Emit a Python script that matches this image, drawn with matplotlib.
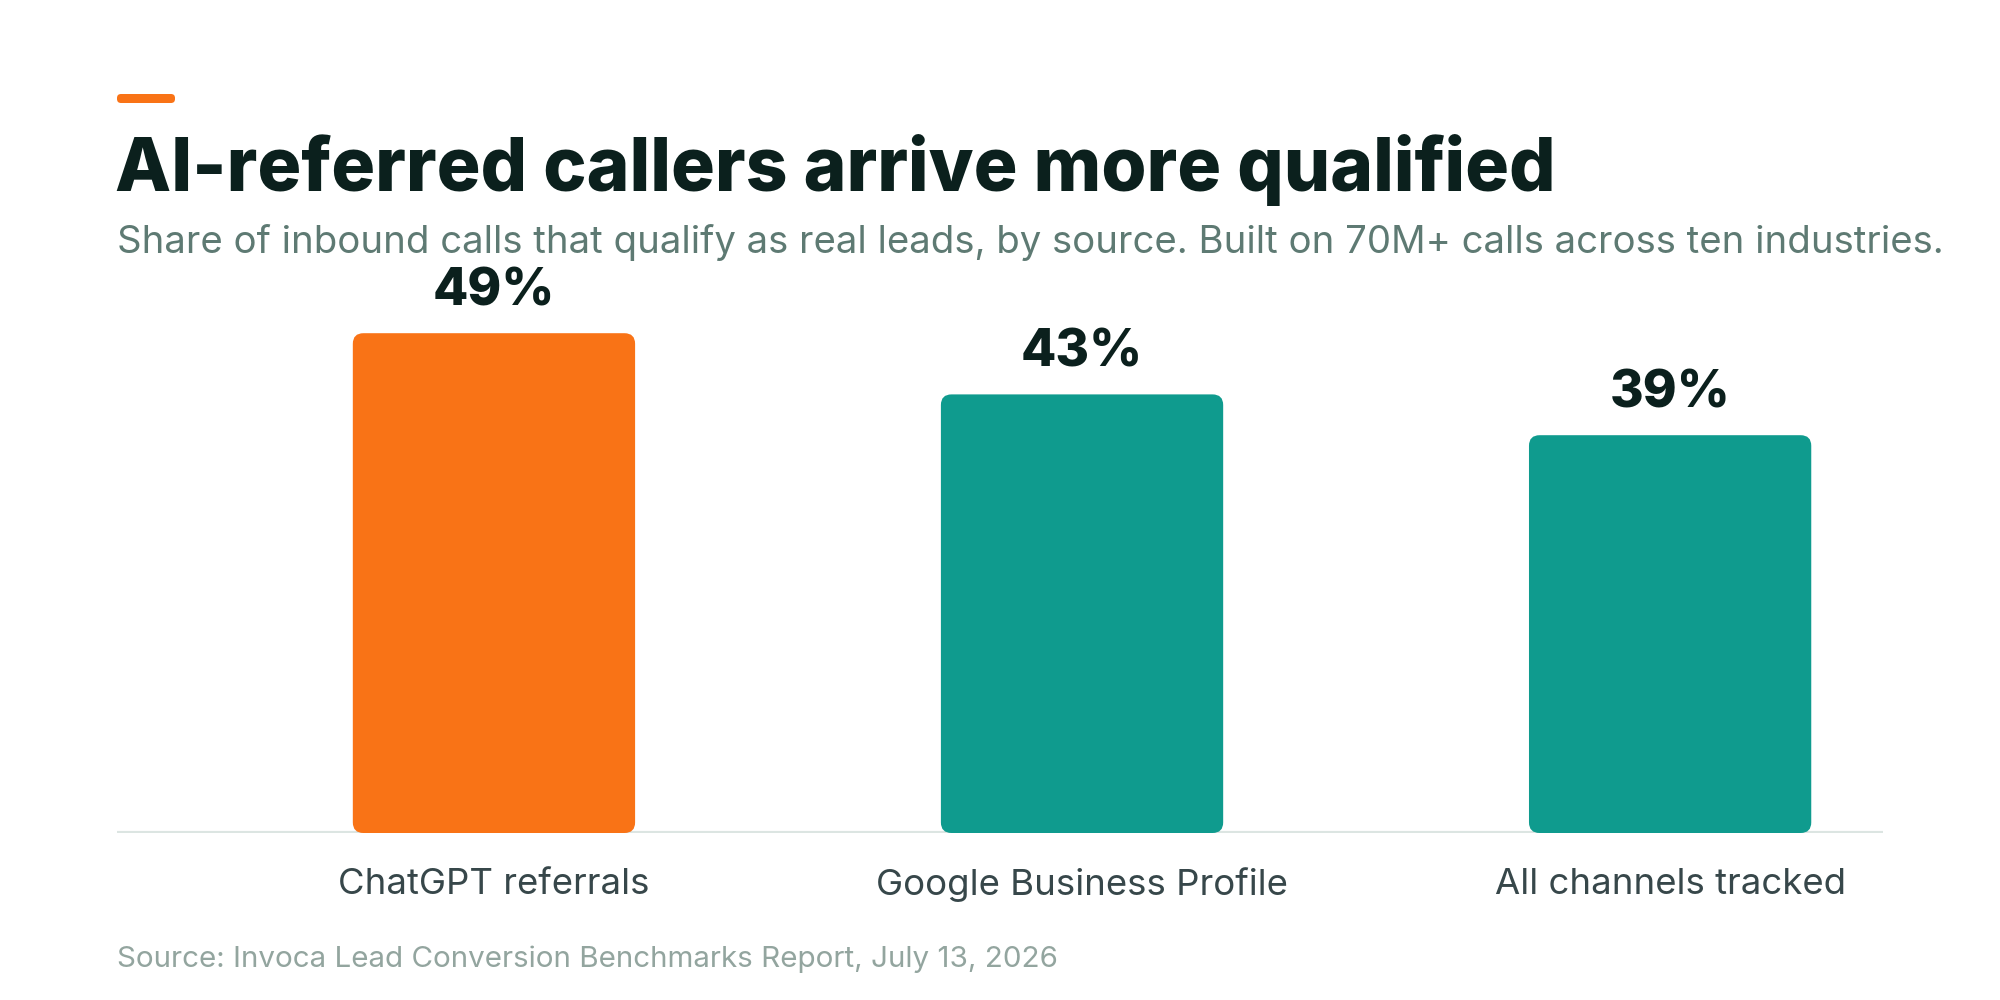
import matplotlib
matplotlib.use("Agg")
import matplotlib.pyplot as plt
from matplotlib.patches import FancyBboxPatch

# data
categories = ["ChatGPT referrals", "Google Business Profile", "All channels tracked"]
values = [49, 43, 39]
value_labels = ["49%", "43%", "39%"]
bar_colors = ["#F97316", "#0F9B8E", "#0F9B8E"]

title = "AI-referred callers arrive more qualified"
subtitle = ("Share of inbound calls that qualify as real leads, by source. "
            "Built on 70M+ calls across ten industries.")
source = "Source: Invoca Lead Conversion Benchmarks Report, July 13, 2026"

plt.rcParams["font.family"] = ["Inter", "DejaVu Sans"]

W, H = 2000, 1000
fig = plt.figure(figsize=(20, 10), dpi=100)
fig.patch.set_facecolor("white")

# axes placed in pixel terms: baseline at y=833, left 117, right 1883
ax_h = 612
ax = fig.add_axes([117 / W, 1 - 833 / H, (1883 - 117) / W, ax_h / H])
ax.set_xlim(-0.641, 2.362)
ax.set_ylim(0, 60)
ax.axis("off")

xs = list(range(len(categories)))
bars = ax.bar(xs, values, width=0.48, color=bar_colors)

# swap plain bars for rounded ones
rad_x = 0.018
aspect = (60 / ax_h) / (3.003 / 1766)
for b in bars:
    x0, y0 = b.get_x(), b.get_y()
    w, h = b.get_width(), b.get_height()
    fb = FancyBboxPatch((x0, y0), w, h,
                        boxstyle=f"round,pad=0,rounding_size={rad_x}",
                        mutation_aspect=aspect,
                        facecolor=b.get_facecolor(), edgecolor="none", zorder=3)
    b.remove()
    ax.add_patch(fb)

# baseline
ax.axhline(0, color="#DCE5E2", lw=3, zorder=2)

for x, v, lab in zip(xs, values, value_labels):
    ax.annotate(lab, (x, v), xytext=(0, 30), textcoords="offset points",
                ha="center", va="center", fontsize=37, fontweight="heavy",
                color="#0B201D")

for x, cat in zip(xs, categories):
    ax.annotate(cat, (x, 0), xytext=(0, -37), textcoords="offset points",
                ha="center", va="center", fontsize=26.3, color="#37474A")

# accent bar above title
fig.patches.append(FancyBboxPatch((117 / W, 1 - 103 / H), 58 / W, 9 / H,
                                  boxstyle="round,pad=0,rounding_size=0.002",
                                  transform=fig.transFigure, facecolor="#F97316",
                                  edgecolor="none", mutation_aspect=2))

fig.text(115 / W, 1 - 191 / H, title, fontsize=52.6, fontweight="heavy",
         color="#0B201D", ha="left", va="baseline")
fig.text(117 / W, 1 - 253 / H, subtitle, fontsize=27.6, color="#5E7A73",
         ha="left", va="baseline")
fig.text(117 / W, 1 - 967 / H, source, fontsize=21.3, color="#93A59F",
         ha="left", va="baseline")

fig.savefig("out.png", dpi=100, facecolor="white")
